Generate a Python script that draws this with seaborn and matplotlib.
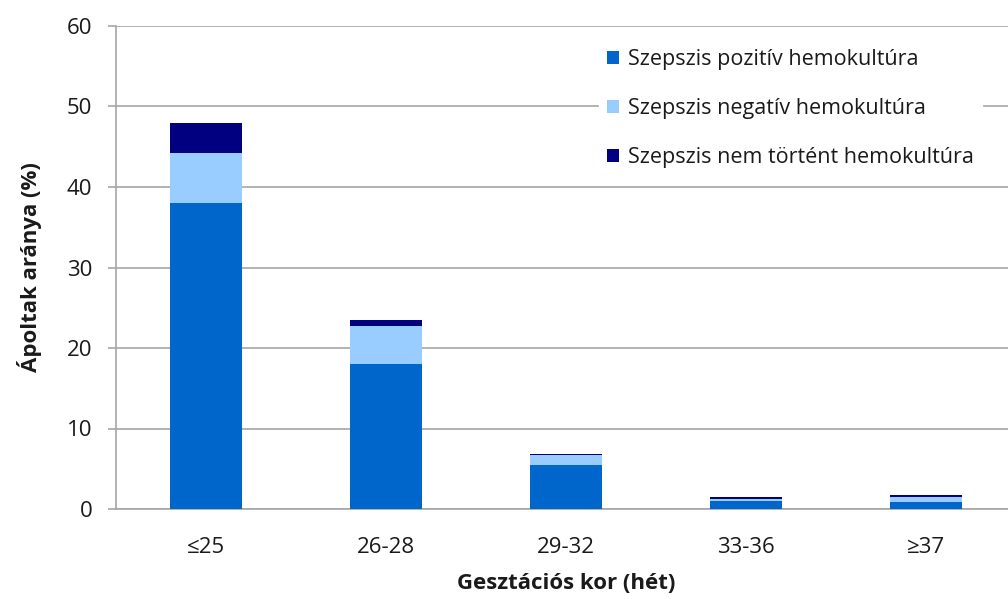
from matplotlib import pyplot as plt
from matplotlib.patches import Patch
import pandas as pd
import numpy as np
import seaborn as sns

categories = ["≤25", "26-28", "29-32", "33-36", "≥37"]
pozitiv = [38.0, 18.0, 5.5, 1.0, 0.9]
negativ = [6.2, 4.7, 1.2, 0.2, 0.55]
nem_tortent = [3.8, 0.8, 0.1, 0.3, 0.35]
series_names = ["Szepszis pozitív hemokultúra",
                "Szepszis negatív hemokultúra",
                "Szepszis nem történt hemokultúra"]
colors = ["#0066CC", "#99CCFF", "#000080"]

data = pd.DataFrame({
    'Kor': categories,
    'pos': pozitiv,
    'neg': negativ,
    'nem': nem_tortent
})

sns.set_style("white")
plt.rcParams['font.family'] = ['Open Sans', 'DejaVu Sans']

fig = plt.figure(figsize=(10.08, 5.99), dpi=100)
ax = fig.add_axes([116 / 1008, 90 / 599, 900 / 1008, 483 / 599])

bottoms = np.zeros(len(categories))
for col, color in zip(['pos', 'neg', 'nem'], colors):
    sns.barplot(data=data, x='Kor', y=col, color=color, width=0.4,
                bottom=bottoms, ax=ax, saturation=1, zorder=3, linewidth=0)
    bottoms = bottoms + data[col].values

ax.set_ylim(0, 60)
ax.set_xlim(-0.5, 4.5)
ax.set_yticks(range(0, 61, 10))
ax.yaxis.grid(True, color="#A6A6A6", linewidth=1.2, zorder=0)
ax.set_axisbelow(True)

for side in ['top', 'right']:
    ax.spines[side].set_visible(False)
for side in ['left', 'bottom']:
    ax.spines[side].set_color("#A6A6A6")
    ax.spines[side].set_linewidth(1.2)

ax.set_xticks(np.arange(-0.5, 4.6, 1), minor=False)
ax.set_xticklabels([])
ax.set_xticks(range(len(categories)), minor=True)
ax.set_xticklabels(categories, minor=True)
ax.tick_params(axis='x', which='major', direction='out', length=7,
               color="#A6A6A6", width=1.2)
ax.tick_params(axis='x', which='minor', length=0, labelsize=16,
               labelcolor="#1a1a1a", pad=20)
ax.tick_params(axis='y', direction='out', length=6, color="#A6A6A6",
               width=1.2, labelsize=16, labelcolor="#1a1a1a", pad=11, left=True)

ax.set_xlabel("Gesztációs kor (hét)", fontsize=16, fontweight='bold',
              color="#1a1a1a", labelpad=11)
ax.set_ylabel("Ápoltak aránya (%)", fontsize=16, fontweight='bold',
              color="#1a1a1a", labelpad=18)

handles = [Patch(facecolor=c, edgecolor='none') for c in colors]
leg = ax.legend(handles, series_names, loc='upper left',
                bbox_to_anchor=(0.525, 0.99), frameon=True, framealpha=1,
                edgecolor='white', fontsize=15.5, handlelength=0.55,
                handleheight=0.55, handletextpad=0.45, labelspacing=1.3,
                borderpad=0.35, fancybox=False)
for t in leg.get_texts():
    t.set_color("#1a1a1a")

plt.savefig("out.png", dpi=100)
